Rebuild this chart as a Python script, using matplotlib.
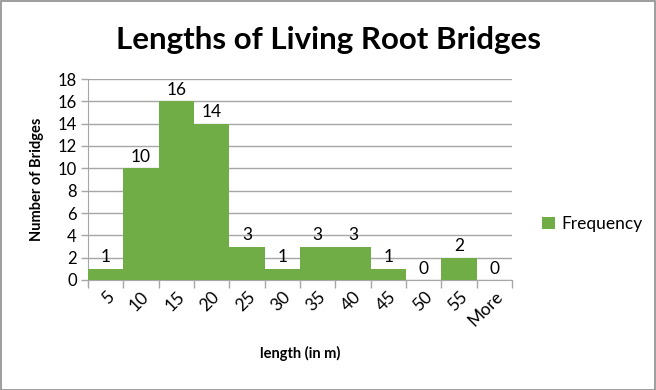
import matplotlib
matplotlib.use("Agg")
import matplotlib.pyplot as plt
from matplotlib.patches import Rectangle
import numpy as np

categories = ["5", "10", "15", "20", "25", "30", "35", "40", "45", "50", "55", "More"]
frequency = [1, 10, 16, 14, 3, 1, 3, 3, 1, 0, 2, 0]
y_ticks = [0, 2, 4, 6, 8, 10, 12, 14, 16, 18]

plt.rcParams['font.family'] = ['Lato', 'DejaVu Sans']

W, H = 656, 390
fig = plt.figure(figsize=(W / 100, H / 100), dpi=100)
fig.patch.set_facecolor('white')
fig.add_artist(Rectangle((0.5 / W, 0.5 / H), 1 - 1.5 / W, 1 - 1.5 / H, transform=fig.transFigure,
                         fill=False, edgecolor='#8c8c8c', linewidth=1.2))

ax = fig.add_axes([88 / W, 1 - 280 / H, (512 - 88) / W, (280 - 79) / H])
x = np.arange(len(categories))
ax.bar(x, frequency, width=1.0, color='#70AD47', label='Frequency', zorder=3, linewidth=0)
for xi, v in zip(x, frequency):
    ax.text(xi, v + 0.3, str(v), ha='center', va='bottom', fontsize=12.5, color='#000000', zorder=4)

ax.set_xlim(-0.5, len(categories) - 0.5)
ax.set_ylim(0, 18)
ax.set_yticks(y_ticks)
ax.set_yticklabels([str(t) for t in y_ticks], fontsize=12)
ax.yaxis.grid(True, color='#a6a6a6', linewidth=1.0, zorder=0)
ax.set_axisbelow(True)

ax.set_xticks(np.arange(len(categories) + 1) - 0.5, minor=False)
ax.set_xticklabels([])
ax.set_xticks(x, minor=True)
ax.set_xticklabels(categories, minor=True, rotation=45, ha='right', va='top',
                   rotation_mode='anchor', fontsize=12.5)
ax.tick_params(axis='x', which='major', length=6, color='#a6a6a6', width=1)
ax.tick_params(axis='x', which='minor', length=0, pad=6)
ax.tick_params(axis='y', length=5, color='#a6a6a6', width=1, pad=3)

for s in ['top', 'right']:
    ax.spines[s].set_visible(False)
ax.spines['left'].set_color('#a6a6a6')
ax.spines['bottom'].set_color('#a6a6a6')

ax.set_xlabel('length (in m)', fontsize=10.5, fontweight='bold', labelpad=12)
ax.set_ylabel('Number of Bridges', fontsize=10.5, fontweight='bold', labelpad=10)

fig.text(328 / W, 1 - 40 / H, 'Lengths of Living Root Bridges', ha='center', va='center',
         fontsize=22.5, fontweight='bold')

ax.legend(loc='center left', bbox_to_anchor=(1.035, 0.28), frameon=False, fontsize=12.5,
          handlelength=0.7, handleheight=0.7, handletextpad=0.4)

fig.savefig('out.png', dpi=100)
